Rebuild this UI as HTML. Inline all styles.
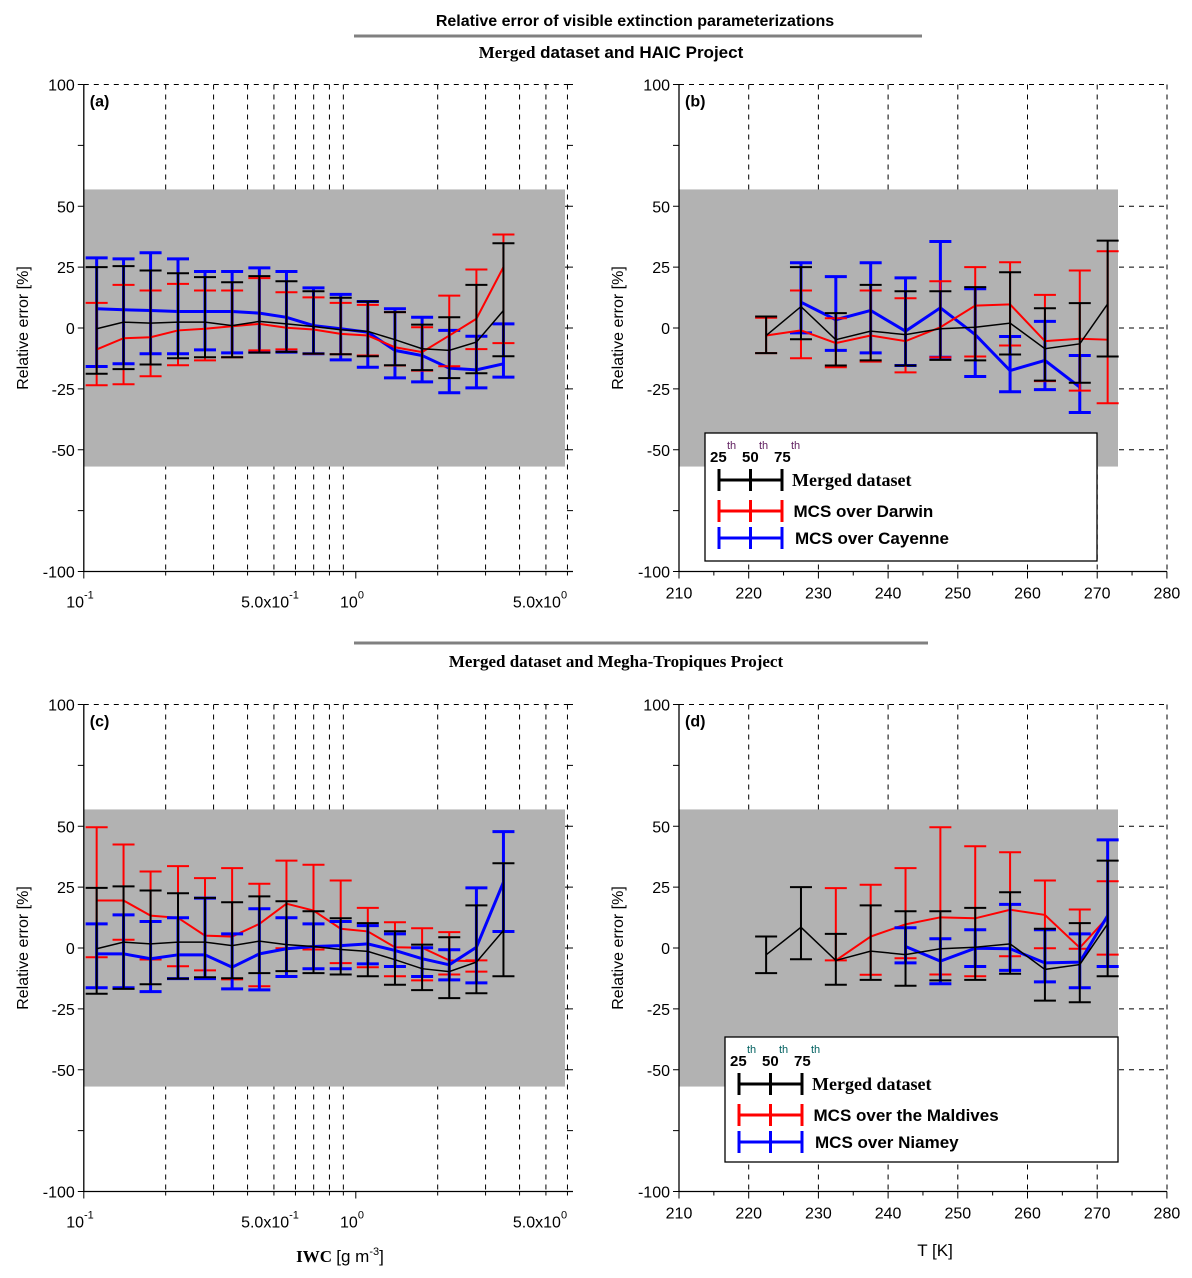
<!DOCTYPE html>
<html><head><meta charset="utf-8"><style>
html,body{margin:0;padding:0;background:#fff;}
svg{display:block;font-family:"Liberation Sans",sans-serif;}
</style></head><body>
<svg id="chart" width="1192" height="1278" viewBox="0 0 1192 1278" xmlns="http://www.w3.org/2000/svg">
<text x="635" y="26" text-anchor="middle" font-size="16" font-weight="bold">Relative error of visible extinction parameterizations</text>
<line x1="354" y1="36" x2="922" y2="36" stroke="#808080" stroke-width="3"/>
<text x="611" y="58" text-anchor="middle" font-size="17" font-weight="bold"><tspan font-family="Liberation Serif, serif">Merged</tspan> dataset and HAIC Project</text>
<line x1="354" y1="643" x2="928" y2="643" stroke="#808080" stroke-width="3"/>
<text x="616" y="667" text-anchor="middle" font-size="17" font-weight="bold" font-family="Liberation Serif, serif">Merged dataset  and Megha-Tropiques Project</text>
<text x="340" y="1262" text-anchor="middle" font-size="17" font-weight="bold" font-family="Liberation Serif, serif">IWC <tspan font-weight="normal" font-family="Liberation Sans, sans-serif">[g m</tspan><tspan font-weight="normal" font-family="Liberation Sans, sans-serif" font-size="11" dy="-7">-3</tspan><tspan font-weight="normal" font-family="Liberation Sans, sans-serif" dy="7">]</tspan></text>
<text x="935" y="1256" text-anchor="middle" font-size="17">T [K]</text>
<g id="plots"></g>
</svg>
<script>
// ---------- data ----------
const iwcBins = [0.1115,0.140,0.176,0.222,0.279,0.351,0.442,0.556,0.699,0.880,1.107,1.393,1.753,2.206,2.776,3.49];
const tempBins = [222.5,227.5,232.5,237.5,242.5,247.5,252.5,257.5,262.5,267.5,271.5];
const yTicks = [100,50,25,0,-25,-50,-100];
const tTicks = [210,220,230,240,250,260,270,280];

// panel a
const aBlackMed = [-0.3,2.4,2.0,2.4,2.4,1.0,2.7,1.7,0.6,-0.7,-1.4,-4.8,-8.5,-9.2,-5.8,7.2];
const aBlackHi = [25,25.4,23.6,22.5,20.9,18.8,21.3,19.2,15.1,12.4,10.9,6.5,1.4,4.4,17.7,34.8];
const aBlackLo = [-18.8,-16.9,-15,-12.4,-12,-12,-10.1,-9.8,-10.5,-10.8,-11.6,-15.3,-17.3,-20.6,-18.6,-11.6];
const aRedMed = [-8.8,-4.2,-3.8,-1,-0.3,0.7,1.7,0.1,-0.6,-2.4,-3.1,-7.9,-9.9,-3.1,3.8,25];
const aRedHi = [10.3,17.7,15.4,18.1,15.4,15.4,20.5,14.7,12.6,10.3,9.5,6.5,0.3,13.3,24,38.4];
const aRedLo = [-23.5,-23.1,-19.8,-15.3,-13.3,-12,-9.2,-8.8,-10.6,-10.8,-11.3,-15.4,-17.5,-15.7,-8.7,-6.2];
const aBlueMed = [7.9,7.5,7.2,6.8,6.8,6.8,6.1,4.4,1,-0.3,-1.7,-9.2,-11.3,-16.5,-17.2,-14.7];
const aBlueHi = [28.8,28.4,30.9,28.4,23.2,23.2,24.7,23.2,16.5,13.8,10.9,7.9,4.4,-1,-3.4,1.7];
const aBlueLo = [-15.8,-14.7,-10.6,-10.6,-9,-10.2,-9.9,-9.9,-10.6,-13.1,-16.1,-20.5,-22.1,-26.6,-24.6,-20.2];

// panel b
const bBlackMed = [-3.1,8.8,-4.8,-1.3,-2.7,-0.3,0.3,2,-8.5,-6.5,9.9];
const bBlackHi = [4.7,25,6.1,17.7,15.1,15.1,16.8,22.9,8.1,10.2,35.9];
const bBlackLo = [-10.3,-4.6,-15.4,-13.3,-15.4,-13.1,-13.3,-10.9,-21.6,-22.5,-11.7];
const bRedMed = [-3.1,-1,-6.2,-3.1,-5.4,0.3,9.2,9.7,-5.4,-4.4,-4.8];
const bRedHi = [4.2,15.4,4,15.4,12.2,19.2,25,27,13.6,23.6,31.5];
const bRedLo = [-10.3,-12.4,-16.1,-13.8,-18.2,-12,-11.7,-7.2,-21.8,-25.7,-30.9];
const bBlueTemps = [227.5,232.5,237.5,242.5,247.5,252.5,257.5,262.5,267.5];
const bBlueMed = [10.6,3.4,7.2,-1.3,8.3,-2.7,-17.5,-13.3,-24.3];
const bBlueHi = [26.8,21.1,26.8,20.6,35.5,16.1,-3.5,2.7,-11.3];
const bBlueLo = [-2,-9.2,-10.2,-15.4,-12,-19.9,-26.2,-25.3,-34.7];

// panel c
const cBlackMed = [-0.3,2.4,1.7,2.4,2.4,1,2.8,1.4,0.6,-0.6,-1.4,-4.8,-8.5,-9.7,-5.8,7.2];
const cBlackHi = [24.7,25.3,23.6,22.5,20.6,18.8,21.2,19.2,15.1,12.2,10.2,6.9,1.4,4.4,17.5,34.8];
const cBlackLo = [-18.8,-16.8,-14.9,-12.6,-12,-12.4,-10.3,-9.5,-10.3,-10.9,-11.6,-15.1,-17.3,-20.6,-18.6,-11.6];
const cRedMed = [19.5,19.5,13.3,12.4,5.1,4.7,9.9,18.2,15.4,7.9,6.8,0.3,0.1,-5.1,-5.5];
const cRedHi = [49.6,42.5,31.4,33.6,28.7,32.8,26.4,35.9,34.2,27.7,16.5,10.6,8.1,6.5,-5.1];
const cRedLo = [-3.8,3.4,-4.7,-7.5,-9.2,-12.9,-15.7,-0.1,-0.6,-6.2,-7.9,-11.6,-13.3,-10.9,-9.7];
const cBlueMed = [-2.4,-2.4,-4.4,-2.8,-2.8,-7.9,-2.4,-0.3,0.6,1,1.7,-1,-4.4,-6.9,0.3,27];
const cBlueHi = [9.9,13.6,10.9,12.4,20.5,5.8,16.1,12.4,9.9,10.9,9.2,5.8,0.1,-0.7,24.7,47.8];
const cBlueLo = [-16.3,-16.3,-17.9,-12.6,-12.6,-16.8,-17.2,-11.7,-8.5,-8.5,-6.5,-7.6,-11.7,-13.1,-14.3,6.8];

// panel d
const dBlackMed = [-2.8,8.5,-5.1,-1.3,-2.7,-0.3,0.3,1.7,-8.8,-6.8,9.9];
const dBlackHi = [4.7,25,5.8,17.5,15.1,15.1,16.5,22.9,7.9,10.2,35.9];
const dBlackLo = [-10.3,-4.6,-15.1,-13.1,-15.5,-13.3,-13.1,-10.6,-21.6,-22.3,-11.6];
const dRedTemps = [232.5,237.5,242.5,247.5,252.5,257.5,262.5,267.5,271.5];
const dRedMed = [-5.1,4.7,9.7,12.6,12.2,15.7,13.6,0.1,12.6];
const dRedHi = [24.6,26,32.8,49.6,41.8,39.3,27.7,15.8,27.4];
const dRedLo = [-5.1,-11,-4.2,-10.9,-11.6,-3.4,-0.1,-0.3,-2.7];
const dBlueTemps = [242.5,247.5,252.5,257.5,262.5,267.5,271.5];
const dBlueMed = [0.6,-5.4,-0.1,-0.3,-6.1,-5.8,13.3];
const dBlueHi = [8.3,3.8,7.5,17.9,7.5,5.8,44.4];
const dBlueLo = [-6.1,-14.7,-7.6,-9.2,-13.9,-16.3,-7.6];

// ---------- drawing ----------
const NS = "http://www.w3.org/2000/svg";
const root = document.getElementById('plots');
function mk(tag, attrs, parent) {
  const e = document.createElementNS(NS, tag);
  for (const k in attrs) e.setAttribute(k, attrs[k]);
  (parent || root).appendChild(e);
  return e;
}
function drawPanel(p) {
  const g = mk('g', {});
  
  
  const yS = v => p.zeroY - v * 2.435;
  const top = yS(100), bot = yS(-100);
  // dashed grid
  p.vgrid.forEach(v => {
    const l = mk('line', {x1: p.xS(v), x2: p.xS(v), y1: top, y2: bot, stroke: '#000', 'stroke-width': 1, 'stroke-dasharray': '5,5'}, g);
    
    
  });
  [50, 25, 0, -25, -50].forEach(v => {
    const l = mk('line', {x1: p.x0, x2: p.x1, y1: yS(v), y2: yS(v), stroke: '#000', 'stroke-width': 1, 'stroke-dasharray': '5,5'}, g);
    
    
  });
  const tl = mk('line', {x1: p.x0, x2: p.x1, y1: top, y2: top, stroke: '#000', 'stroke-width': 1, 'stroke-dasharray': '5,5'}, g);
  
  
  if (p.rightDashed) {
    const rl = mk('line', {x1: p.x1, x2: p.x1, y1: top, y2: bot, stroke: '#000', 'stroke-width': 1, 'stroke-dasharray': '5,5'}, g);
    
    
  }
  // gray band
  const band = mk('rect', {x: p.x0, y: yS(56.9), width: p.grayRight - p.x0, height: yS(-56.9) - yS(56.9), fill: '#b2b2b2'}, g);
  
  
  // axes
  const ya = mk('line', {x1: p.x0, x2: p.x0, y1: top, y2: bot, stroke: '#000', 'stroke-width': 1.3}, g);
  
  
  const xa = mk('line', {x1: p.x0, x2: p.x1, y1: bot, y2: bot, stroke: '#000', 'stroke-width': 1.3}, g);
  
  
  [100, 75, 50, 25, 0, -25, -50, -75, -100].forEach(v => {
    mk('line', {x1: p.x0 - 6, x2: p.x0, y1: yS(v), y2: yS(v), stroke: '#000'}, g);
    if (p.rightTicks) mk('line', {x1: p.x1 - 6, x2: p.x1, y1: yS(v), y2: yS(v), stroke: '#000'}, g);
  });
  yTicks.forEach(v => {
    const t = mk('text', {x: p.x0 - 9, y: yS(v) + 6, 'text-anchor': 'end', 'font-size': 16}, g);
    t.textContent = String(v);
    
    
  });
  p.xMinor.forEach(v => mk('line', {x1: p.xS(v), x2: p.xS(v), y1: bot, y2: bot + 4, stroke: '#000'}, g));
  p.xMajor.forEach(v => mk('line', {x1: p.xS(v), x2: p.xS(v), y1: bot, y2: bot + 7, stroke: '#000'}, g));
  p.xLabels(g, bot);
  const yt = mk('text', {x: 0, y: 0, transform: 'translate(' + (p.x0 - 56) + ',' + yS(0) + ') rotate(-90)', 'text-anchor': 'middle', 'font-size': 16}, g);
  yt.textContent = 'Relative error [%]';
  
  
  const pl = mk('text', {x: p.x0 + 6, y: top + 22, 'font-size': 16, 'font-weight': 'bold'}, g);
  pl.textContent = '(' + p.id + ')';
  
  
  // series
  p.series.forEach(s => {
    const sg = mk('g', {}, g);
    
    
    const pts = s.x.map((xv, i) => p.xS(xv) + ',' + yS(s.med[i])).join(' ');
    const ln = mk('polyline', {points: pts, fill: 'none', stroke: s.color, 'stroke-width': s.lw}, sg);
    
    
    s.x.forEach((xv, i) => {
      const cx = p.xS(xv);
      const bar = mk('line', {x1: cx, x2: cx, y1: yS(s.hi[i]), y2: yS(s.lo[i]), stroke: s.color, 'stroke-width': s.bw}, sg);
      
      
      [s.hi[i], s.lo[i]].forEach(v => {
        const c = mk('line', {x1: cx - 11, x2: cx + 11, y1: yS(v), y2: yS(v), stroke: s.color, 'stroke-width': s.cw}, sg);
        
        
      });
    });
  });
}
function supLabel(g, x, y, base, exp, name) {
  const t = mk('text', {x: x, y: y, 'text-anchor': 'middle', 'font-size': 16}, g);
  
  
  const a = mk('tspan', {}, t); a.textContent = base;
  const b = mk('tspan', {'font-size': 11, dy: -9}, t); b.textContent = exp;
}
const logX = v => 83.8 + 272 * (Math.log10(v) + 1);
const linX = v => 679 + (v - 210) * 6.97;
const iwcGrid = [0.2,0.3,0.4,0.5,0.6,0.7,0.8,0.9,2,3,4,5,6];
const iwcLabels = (g, bot) => {
  supLabel(g, 80, bot + 36, '10', '-1', 'x-tick-label');
  supLabel(g, 270, bot + 36, '5.0x10', '-1', 'x-tick-label');
  supLabel(g, 352, bot + 36, '10', '0', 'x-tick-label');
  supLabel(g, 540, bot + 36, '5.0x10', '0', 'x-tick-label');
};
const tLabels = (g, bot) => {
  tTicks.forEach(v => {
    const t = mk('text', {x: linX(v), y: bot + 27, 'text-anchor': 'middle', 'font-size': 16}, g);
    t.textContent = String(v);
    
    
  });
};
const tMinor = [215,225,235,245,255,265,275];
const sty = {
  blue: {color: '#0000ff', lw: 3, bw: 3, cw: 3},
  red: {color: '#ff0000', lw: 2, bw: 2, cw: 2},
  black: {color: '#000', lw: 1.5, bw: 2, cw: 2}
};
function ser(name, st, x, med, hi, lo) { return Object.assign({name, x, med, hi, lo}, st); }
const iwc15 = iwcBins.slice(0, 15);
drawPanel({id: 'a', zeroY: 328, x0: 83.8, x1: 573, grayRight: 565, xS: logX, vgrid: iwcGrid, xMajor: [0.1, 1], xMinor: iwcGrid, xLabels: iwcLabels, rightTicks: true,
  series: [ser('blue', sty.blue, iwcBins, aBlueMed, aBlueHi, aBlueLo), ser('red', sty.red, iwcBins, aRedMed, aRedHi, aRedLo), ser('black', sty.black, iwcBins, aBlackMed, aBlackHi, aBlackLo)]});
drawPanel({id: 'b', zeroY: 328, x0: 679, x1: 1167, grayRight: 1118, xS: linX, vgrid: [220,230,240,250,260,270], xMajor: tTicks, xMinor: tMinor, xLabels: tLabels, rightDashed: true,
  series: [ser('blue', sty.blue, bBlueTemps, bBlueMed, bBlueHi, bBlueLo), ser('red', sty.red, tempBins, bRedMed, bRedHi, bRedLo), ser('black', sty.black, tempBins, bBlackMed, bBlackHi, bBlackLo)]});
drawPanel({id: 'c', zeroY: 948, x0: 83.8, x1: 573, grayRight: 565, xS: logX, vgrid: iwcGrid, xMajor: [0.1, 1], xMinor: iwcGrid, xLabels: iwcLabels, rightTicks: true,
  series: [ser('red', sty.red, iwc15, cRedMed, cRedHi, cRedLo), ser('blue', sty.blue, iwcBins, cBlueMed, cBlueHi, cBlueLo), ser('black', sty.black, iwcBins, cBlackMed, cBlackHi, cBlackLo)]});
drawPanel({id: 'd', zeroY: 948, x0: 679, x1: 1167, grayRight: 1118, xS: linX, vgrid: [220,230,240,250,260,270], xMajor: tTicks, xMinor: tMinor, xLabels: tLabels, rightDashed: true,
  series: [ser('red', sty.red, dRedTemps, dRedMed, dRedHi, dRedLo), ser('blue', sty.blue, dBlueTemps, dBlueMed, dBlueHi, dBlueLo), ser('black', sty.black, tempBins, dBlackMed, dBlackHi, dBlackLo)]});

// legends
function legend(x, y, w, h, labels, supColor) {
  const g = mk('g', {});
  
  
  const r = mk('rect', {x: x, y: y, width: w, height: h, fill: '#fff', stroke: '#000', 'stroke-width': 1.3}, g);
  
  
  ['25', '50', '75'].forEach((n, i) => {
    const t = mk('text', {x: x + 5 + i * 32, y: y + 29, 'font-size': 15, 'font-weight': 'bold'}, g);
    t.textContent = n;
    
    
    const s = mk('text', {x: x + 22 + i * 32, y: y + 16, 'font-size': 11, fill: supColor}, g);
    s.textContent = 'th';
    
    
  });
  const rows = [{c: '#000', dy: 47}, {c: '#ff0000', dy: 78}, {c: '#0000ff', dy: 105}];
  rows.forEach((rw, i) => {
    const eg = mk('g', {}, g);
    
    
    const yy = y + rw.dy, xa = x + 14;
    mk('line', {x1: xa, x2: xa + 63, y1: yy, y2: yy, stroke: rw.c, 'stroke-width': 3}, eg);
    [0, 31.5, 63].forEach(o => mk('line', {x1: xa + o, x2: xa + o, y1: yy - 11, y2: yy + 11, stroke: rw.c, 'stroke-width': 3}, eg));
    const t = mk('text', {x: x + 87 + i * 1.5, y: yy + 6, 'font-size': i === 0 ? 18 : 17, 'font-weight': 'bold', 'font-family': i === 0 ? '"Liberation Serif", serif' : '"Liberation Sans", sans-serif'}, eg);
    t.textContent = labels[i];
  });
}
legend(705, 433, 392, 128, ['Merged dataset', 'MCS over Darwin', 'MCS over Cayenne'], '#602060');
legend(725, 1037, 393, 125, ['Merged dataset', 'MCS over the Maldives', 'MCS over Niamey'], '#006060');
</script>
</body></html>
